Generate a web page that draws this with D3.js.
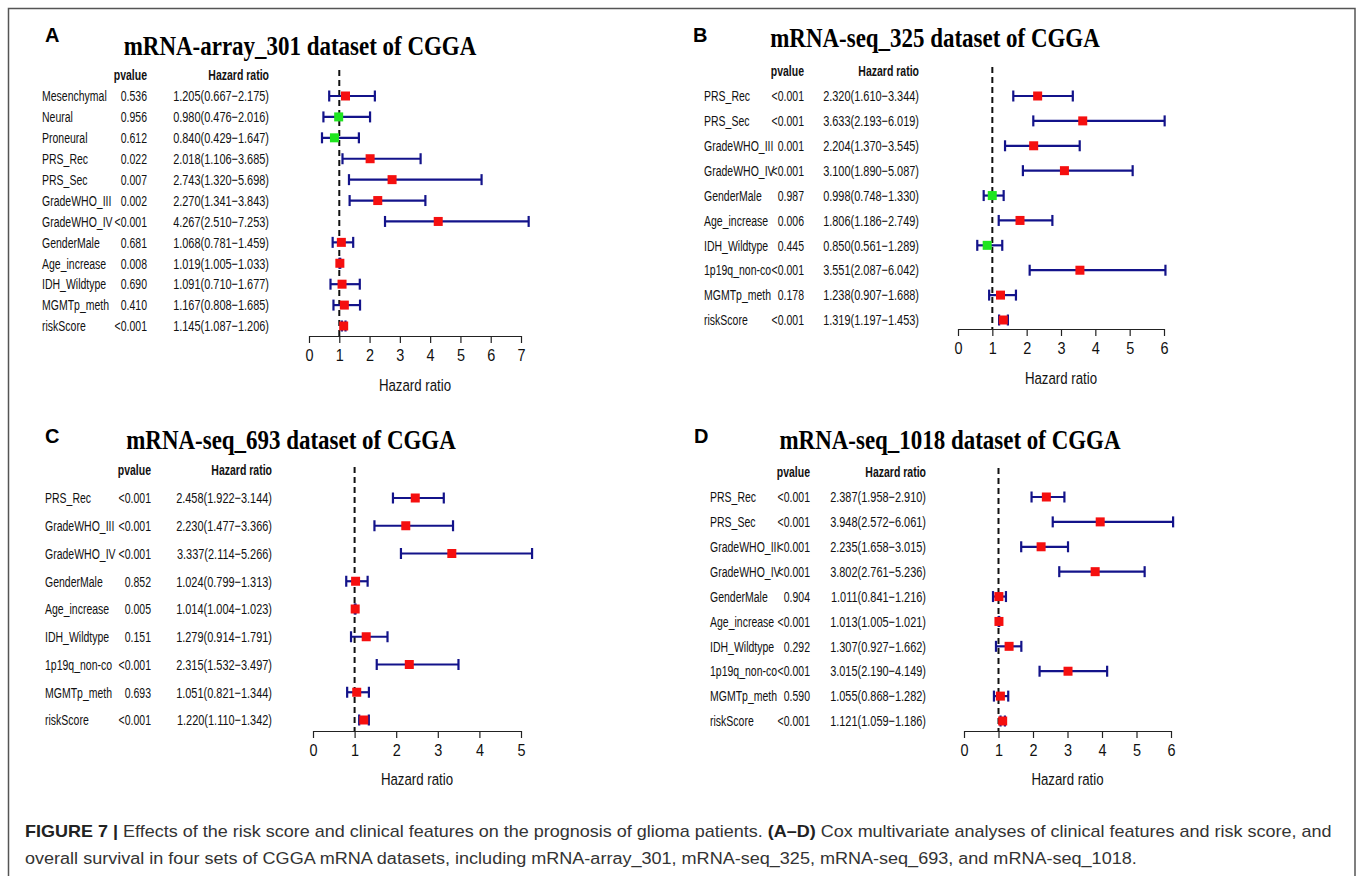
<!DOCTYPE html>
<html lang="en">
<head>
    <meta charset="UTF-8">
    <script src="https://cdn.jsdelivr.net/npm/d3@7"></script>
    <title>Forest plots CGGA</title>
    <style>
        body { margin: 0; background: white; }
    </style>
</head>
<body>
    <div class="fig"></div>
    <script>
        // ---- data ----
        const titles = ["mRNA-array_301 dataset of CGGA", "mRNA-seq_325 dataset of CGGA",
                        "mRNA-seq_693 dataset of CGGA", "mRNA-seq_1018 dataset of CGGA"];
        const letters = ["A", "B", "C", "D"];

        const varsA = ["Mesenchymal", "Neural", "Proneural", "PRS_Rec", "PRS_Sec", "GradeWHO_III", "GradeWHO_IV",
                       "GenderMale", "Age_increase", "IDH_Wildtype", "MGMTp_meth", "riskScore"];
        const pA  = ["0.536", "0.956", "0.612", "0.022", "0.007", "0.002", "<0.001", "0.681", "0.008", "0.690", "0.410", "<0.001"];
        const hrA = [1.205, 0.980, 0.840, 2.018, 2.743, 2.270, 4.267, 1.068, 1.019, 1.091, 1.167, 1.145];
        const loA = [0.667, 0.476, 0.429, 1.106, 1.320, 1.341, 2.510, 0.781, 1.005, 0.710, 0.808, 1.087];
        const hiA = [2.175, 2.016, 1.647, 3.685, 5.698, 3.843, 7.253, 1.459, 1.033, 1.677, 1.685, 1.206];
        const ticksA = [0, 1, 2, 3, 4, 5, 6, 7];

        const varsB = ["PRS_Rec", "PRS_Sec", "GradeWHO_III", "GradeWHO_IV", "GenderMale", "Age_increase",
                       "IDH_Wildtype", "1p19q_non-co", "MGMTp_meth", "riskScore"];
        const pB  = ["<0.001", "<0.001", "0.001", "<0.001", "0.987", "0.006", "0.445", "<0.001", "0.178", "<0.001"];
        const hrB = [2.320, 3.633, 2.204, 3.100, 0.998, 1.806, 0.850, 3.551, 1.238, 1.319];
        const loB = [1.610, 2.193, 1.370, 1.890, 0.748, 1.186, 0.561, 2.087, 0.907, 1.197];
        const hiB = [3.344, 6.019, 3.545, 5.087, 1.330, 2.749, 1.289, 6.042, 1.688, 1.453];
        const ticksB = [0, 1, 2, 3, 4, 5, 6];

        const varsC = ["PRS_Rec", "GradeWHO_III", "GradeWHO_IV", "GenderMale", "Age_increase",
                       "IDH_Wildtype", "1p19q_non-co", "MGMTp_meth", "riskScore"];
        const pC  = ["<0.001", "<0.001", "<0.001", "0.852", "0.005", "0.151", "<0.001", "0.693", "<0.001"];
        const hrC = [2.458, 2.230, 3.337, 1.024, 1.014, 1.279, 2.315, 1.051, 1.220];
        const loC = [1.922, 1.477, 2.114, 0.799, 1.004, 0.914, 1.532, 0.821, 1.110];
        const hiC = [3.144, 3.366, 5.266, 1.313, 1.023, 1.791, 3.497, 1.344, 1.342];
        const ticksC = [0, 1, 2, 3, 4, 5];

        const varsD = ["PRS_Rec", "PRS_Sec", "GradeWHO_III", "GradeWHO_IV", "GenderMale", "Age_increase",
                       "IDH_Wildtype", "1p19q_non-co", "MGMTp_meth", "riskScore"];
        const pD  = ["<0.001", "<0.001", "<0.001", "<0.001", "0.904", "<0.001", "0.292", "<0.001", "0.590", "<0.001"];
        const hrD = [2.387, 3.948, 2.235, 3.802, 1.011, 1.013, 1.307, 3.015, 1.055, 1.121];
        const loD = [1.958, 2.572, 1.658, 2.761, 0.841, 1.005, 0.927, 2.190, 0.868, 1.059];
        const hiD = [2.910, 6.061, 3.015, 5.236, 1.216, 1.021, 1.662, 4.149, 1.282, 1.186];
        const ticksD = [0, 1, 2, 3, 4, 5, 6];

        const captionBold1 = "FIGURE 7 | ";
        const captionText1a = "Effects of the risk score and clinical features on the prognosis of glioma patients. ";
        const captionBold2 = "(A\u2013D)";
        const captionText1b = " Cox multivariate analyses of clinical features and risk score, and";
        const captionText2 = "overall survival in four sets of CGGA mRNA datasets, including mRNA-array_301, mRNA-seq_325, mRNA-seq_693, and mRNA-seq_1018.";

        // ---- layout ----
        const width = 1357, height = 876;
        const sans = "'Liberation Sans', Arial, Helvetica, sans-serif";
        const serif = "'Liberation Serif', 'Times New Roman', serif";
        const sx = 0.70;   // figure text is horizontally squeezed
        const fs = 15;

        const svg = d3.select(".fig").append("svg")
            .attr("width", width)
            .attr("height", height);

        svg.append("rect")
            .attr("x", 8.5).attr("y", 8.5)
            .attr("width", 1346.5).attr("height", 900)
            .attr("fill", "none")
            .attr("stroke", "#555")
            .attr("stroke-width", 1.5);

        const label = (g, x, y, s, opt = {}) => g.append("text")
            .attr("transform", `translate(${x},${y}) scale(${opt.sx ?? sx},1)`)
            .attr("dy", opt.dy ?? "0.35em")
            .attr("text-anchor", opt.anchor ?? "start")
            .attr("font-family", opt.family ?? sans)
            .attr("font-size", opt.size ?? fs)
            .attr("font-weight", opt.weight ?? "normal")
            .attr("fill", opt.fill ?? "#111")
            .text(s);

        const panels = [
            { vars: varsA, p: pA, hr: hrA, lo: loA, hi: hiA, ticks: ticksA,
              letterX: 45, letterY: 42, titleX: 300, titleY: 55, headY: 75,
              labX: 42, pX: 147, hrX: 269, rowTop: 96, rowBot: 326,
              ax0: 309, ax1: 521, axY: 336, dashTop: 70, axTitleY: 385 },
            { vars: varsB, p: pB, hr: hrB, lo: loB, hi: hiB, ticks: ticksB,
              letterX: 693, letterY: 42, titleX: 935, titleY: 47, headY: 71,
              labX: 704, pX: 804, hrX: 919, rowTop: 96, rowBot: 320,
              ax0: 958, ax1: 1164, axY: 329, dashTop: 67, axTitleY: 378 },
            { vars: varsC, p: pC, hr: hrC, lo: loC, hi: hiC, ticks: ticksC,
              letterX: 45, letterY: 443, titleX: 291, titleY: 449, headY: 470,
              labX: 45, pX: 151, hrX: 272, rowTop: 498, rowBot: 720,
              ax0: 313, ax1: 521, axY: 731, dashTop: 467, axTitleY: 779 },
            { vars: varsD, p: pD, hr: hrD, lo: loD, hi: hiD, ticks: ticksD,
              letterX: 694, letterY: 443, titleX: 950, titleY: 449, headY: 472,
              labX: 710, pX: 810, hrX: 926, rowTop: 497, rowBot: 721,
              ax0: 964, ax1: 1171, axY: 731, dashTop: 468, axTitleY: 779 }
        ];

        const fmt = d3.format(".3f");

        const drawPanel = (cfg, i) => {
            const g = svg.append("g");

            g.append("text")
                .attr("x", cfg.letterX).attr("y", cfg.letterY)
                .attr("font-family", sans).attr("font-size", 20).attr("font-weight", "bold")
                .text(letters[i]);

            label(g, cfg.titleX, cfg.titleY, titles[i],
                { family: serif, size: 28, weight: "bold", anchor: "middle", sx: 0.82, dy: 0, fill: "#000" });

            label(g, cfg.pX, cfg.headY, "pvalue", { weight: "bold", anchor: "end" });
            label(g, cfg.hrX, cfg.headY, "Hazard ratio", { weight: "bold", anchor: "end" });

            const idx = d3.range(cfg.vars.length);
            const y = d3.scalePoint().domain(idx).range([cfg.rowTop, cfg.rowBot]);
            const x = d3.scaleLinear()
                .domain([0, cfg.ticks[cfg.ticks.length - 1]])
                .range([cfg.ax0, cfg.ax1]);

            idx.forEach(k => {
                label(g, cfg.labX, y(k), cfg.vars[k]);
                label(g, cfg.pX, y(k), cfg.p[k], { anchor: "end" });
                label(g, cfg.hrX, y(k),
                    `${fmt(cfg.hr[k])}(${fmt(cfg.lo[k])}\u2212${fmt(cfg.hi[k])})`, { anchor: "end", sx: 0.73 });
            });

            // reference line at HR = 1
            g.append("line")
                .attr("x1", x(1)).attr("x2", x(1))
                .attr("y1", cfg.dashTop).attr("y2", cfg.axY)
                .attr("stroke", "#111")
                .attr("stroke-width", 2)
                .attr("stroke-dasharray", "6,4");

            const bars = g.selectAll(".bar").data(idx).enter().append("g").attr("class", "bar");
            bars.append("line")
                .attr("x1", k => x(cfg.lo[k])).attr("x2", k => x(cfg.hi[k]))
                .attr("y1", k => y(k)).attr("y2", k => y(k))
                .attr("stroke", "#13138a").attr("stroke-width", 2.2);
            ["lo", "hi"].forEach(key => {
                bars.append("line")
                    .attr("x1", k => x(cfg[key][k])).attr("x2", k => x(cfg[key][k]))
                    .attr("y1", k => y(k) - 5.5).attr("y2", k => y(k) + 5.5)
                    .attr("stroke", "#13138a").attr("stroke-width", 2.2);
            });
            bars.append("rect")
                .attr("x", k => x(cfg.hr[k]) - 4.5)
                .attr("y", k => y(k) - 4.5)
                .attr("width", 9).attr("height", 9)
                .attr("fill", k => cfg.hr[k] < 1 ? "#1fe51f" : "#f50f0f");

            const axis = g.append("g")
                .attr("transform", `translate(0,${cfg.axY})`)
                .call(d3.axisBottom(x).tickValues(cfg.ticks).tickFormat(d3.format("d"))
                    .tickSize(7).tickSizeOuter(0).tickPadding(6));
            axis.select(".domain").attr("stroke", "#222").attr("stroke-width", 1.2);
            axis.selectAll(".tick line").attr("stroke", "#222").attr("stroke-width", 1.2);
            axis.selectAll(".tick text")
                .attr("font-family", sans).attr("font-size", 17).attr("fill", "#111")
                .attr("transform", "scale(0.85,1)");

            label(g, (cfg.ax0 + cfg.ax1) / 2, cfg.axTitleY, "Hazard ratio",
                { size: 17, anchor: "middle", sx: 0.78 });
        };

        panels.forEach(drawPanel);

        // ---- caption ----
        const cap = svg.append("g").attr("font-family", sans).attr("font-size", 16).attr("fill", "#333");
        const line1 = cap.append("text").attr("x", 0).attr("y", 0);
        line1.append("tspan").attr("font-weight", "bold").attr("fill", "#222").text(captionBold1);
        line1.append("tspan").text(captionText1a);
        line1.append("tspan").attr("font-weight", "bold").attr("fill", "#222").text(captionBold2);
        line1.append("tspan").text(captionText1b);
        const line2 = cap.append("text").attr("x", 0).attr("y", 0).text(captionText2);

        const s1 = 1308 / line1.node().getComputedTextLength();
        const s2 = 1112 / line2.node().getComputedTextLength();
        line1.attr("transform", `translate(25,837) scale(${s1},1)`);
        line2.attr("transform", `translate(25,864) scale(${s2},1)`);
    </script>
</body>
</html>
